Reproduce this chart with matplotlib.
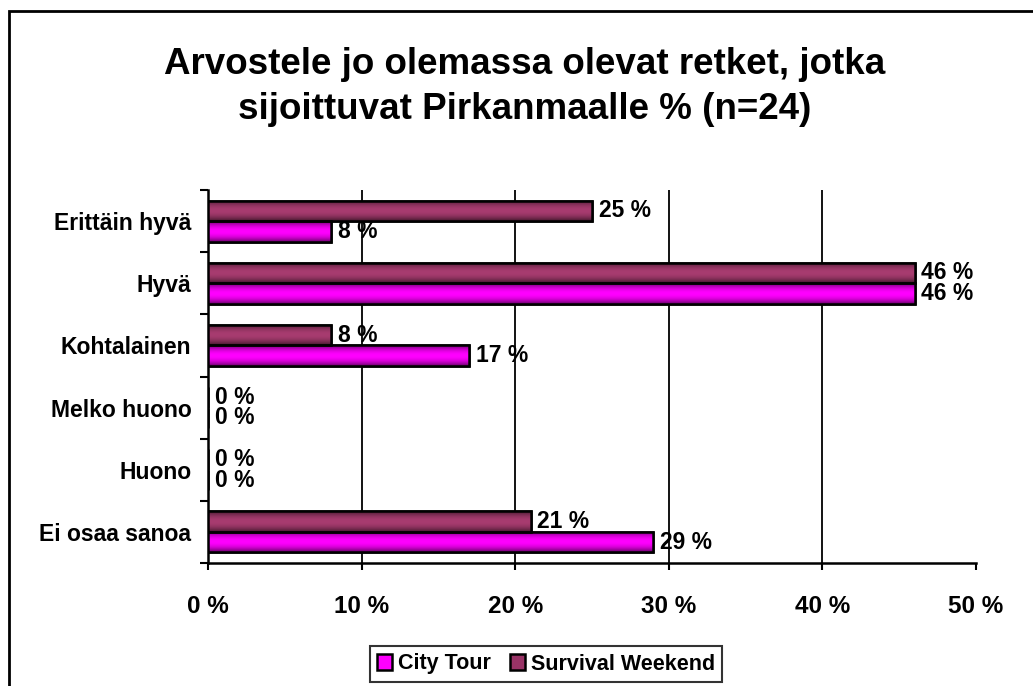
import numpy as np
import matplotlib.pyplot as plt
import matplotlib.patches as patches
from matplotlib.colors import to_rgb

plt.rcParams['font.family'] = ['Liberation Sans', 'DejaVu Sans']
plt.rcParams['font.weight'] = 'bold'

categories = ['Erittäin hyvä', 'Hyvä', 'Kohtalainen', 'Melko huono', 'Huono', 'Ei osaa sanoa']
city_tour = [8, 46, 17, 0, 0, 29]
survival = [25, 46, 8, 0, 0, 21]
xticks = [0, 10, 20, 30, 40, 50]

fig = plt.figure(figsize=(10.33, 6.86), dpi=100)
ax = fig.add_axes([208/1033, 1 - 563/686, 768/1033, 373/686])

# outer chart frame (clipped at right/bottom like the original)
fig.patches.append(patches.Rectangle((9/1033, -0.05), 1.1, 1 - 11/686 + 0.05,
                                     transform=fig.transFigure, fill=False,
                                     edgecolor='black', linewidth=2))

n = len(categories)
y = np.arange(n)[::-1]
h = 0.33


def shade(bars, color):
    # vertical gradient: darker at top and bottom edge
    base = np.array(to_rgb(color))
    t = np.linspace(-1, 1, 64)
    f = 1 - 0.6 * np.abs(t) ** 2
    img = (f[:, None, None] * base[None, None, :]).clip(0, 1)
    for b in bars:
        w = b.get_width()
        if w <= 0:
            continue
        y0 = b.get_y()
        im = ax.imshow(img, extent=(0, w, y0, y0 + b.get_height()), aspect='auto',
                       origin='lower', zorder=3.5, interpolation='bilinear')
        im.set_clip_path(b)


sb = ax.barh(y + h/2, survival, height=h, color='#993366', edgecolor='black',
             linewidth=1.8, label='Survival Weekend', zorder=3)
cb = ax.barh(y - h/2, city_tour, height=h, color='#FF00FF', edgecolor='black',
             linewidth=1.8, label='City Tour', zorder=3)
shade(sb, '#A83C70')
shade(cb, '#FF00FF')
# redraw outlines on top of the gradients
for b in list(sb) + list(cb):
    if b.get_width() > 0:
        ax.add_patch(patches.Rectangle(b.get_xy(), b.get_width(), b.get_height(),
                                       fill=False, edgecolor='black', linewidth=1.8, zorder=4))

for yi, v in zip(y, survival):
    ax.text(v + 0.45, yi + h/2, f'{v} %', va='center', ha='left',
            fontsize=16.5, fontweight='bold', zorder=5)
for yi, v in zip(y, city_tour):
    ax.text(v + 0.45, yi - h/2, f'{v} %', va='center', ha='left',
            fontsize=16.5, fontweight='bold', zorder=5)

ax.set_xlim(0, 50)
ax.set_ylim(-0.5, n - 0.5)
ax.set_xticks(xticks)
ax.set_xticklabels([f'{t} %' for t in xticks], fontsize=17.5, fontweight='bold')
ax.tick_params(axis='x', length=5, width=1.5, pad=18)

ax.set_yticks(y)
ax.set_yticklabels(categories, fontsize=16.5, fontweight='bold')
ax.set_yticks(np.arange(n + 1) - 0.5, minor=True)
ax.tick_params(axis='y', which='major', length=0, pad=12)
ax.tick_params(axis='y', which='minor', length=6, width=1.5)

for t in xticks[1:-1]:
    ax.axvline(t, color='black', linewidth=1.3, zorder=1)

for s in ['top', 'right']:
    ax.spines[s].set_visible(False)
for s in ['left', 'bottom']:
    ax.spines[s].set_linewidth(1.8)

fig.text(0.508, 1 - 87/686, 'Arvostele jo olemassa olevat retket, jotka\nsijoittuvat Pirkanmaalle % (n=24)',
         ha='center', va='center', fontsize=26.5, fontweight='bold', linespacing=1.38)

handles, labels = ax.get_legend_handles_labels()
leg = fig.legend(handles[::-1], labels[::-1], loc='center', bbox_to_anchor=(546/1033, 1 - 664/686),
                 ncol=2, fontsize=15.5, frameon=True, fancybox=False, handlelength=0.7,
                 handleheight=0.7, handletextpad=0.25, columnspacing=0.9, borderpad=0.35)
leg.get_frame().set_edgecolor('black')
leg.get_frame().set_linewidth(1.5)

fig.savefig('out.png', dpi=100)
